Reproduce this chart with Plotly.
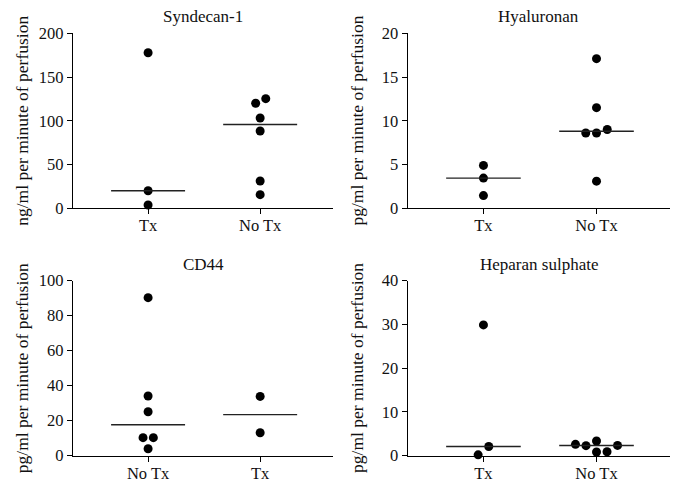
import numpy as np
import plotly.graph_objects as go

# ---- data ----
titles = ["Syndecan-1", "Hyaluronan", "CD44", "Heparan sulphate"]
y_titles = ["ng/ml per minute of perfusion", "pg/ml per minute of perfusion",
            "pg/ml per minute of perfusion", "pg/ml per minute of perfusion"]
groups = [["Tx", "No Tx"], ["Tx", "No Tx"], ["No Tx", "Tx"], ["Tx", "No Tx"]]
y_max = [200, 20, 100, 40]
y_dtick = [50, 5, 20, 10]

syndecan_tx = [177.8, 20.1, 3.8]
syndecan_notx = [120.0, 125.3, 103.2, 88.3, 31.2, 15.6]
hyaluronan_tx = [4.9, 3.45, 1.45]
hyaluronan_notx = [17.1, 11.5, 8.6, 8.6, 9.0, 3.1]
cd44_notx = [90.3, 34.1, 25.1, 10.3, 10.3, 4.0]
cd44_tx = [33.9, 13.1]
heparan_tx = [29.9, 2.1, 0.2]
heparan_notx = [2.6, 2.3, 3.35, 0.84, 0.9, 2.36]

# horizontal scatter offsets (category units)
syndecan_tx_off = [0, 0, 0]
syndecan_notx_off = [-0.04, 0.05, 0, 0, 0, 0]
hyaluronan_tx_off = [0, 0, 0]
hyaluronan_notx_off = [0, 0, -0.095, 0, 0.095, 0]
cd44_notx_off = [0, 0, 0, -0.045, 0.047, 0]
cd44_tx_off = [0, 0]
heparan_tx_off = [0, 0.047, -0.047]
heparan_notx_off = [-0.186, -0.093, 0, 0, 0.093, 0.186]

panels = [
    [(syndecan_tx, syndecan_tx_off), (syndecan_notx, syndecan_notx_off)],
    [(hyaluronan_tx, hyaluronan_tx_off), (hyaluronan_notx, hyaluronan_notx_off)],
    [(cd44_notx, cd44_notx_off), (cd44_tx, cd44_tx_off)],
    [(heparan_tx, heparan_tx_off), (heparan_notx, heparan_notx_off)],
]

# ---- layout geometry (page body has an 8px margin) ----
OFF = 8
W, H = 680 - 2 * OFF, 490 - 2 * OFF


def px(v):
    return (v - OFF) / W


def py(v):
    return 1 - (v - OFF) / H


x_doms = [[px(73), px(333)], [px(407.7), px(670)]]
y_doms = [[py(208.3), py(33.3)], [py(455.7), py(280.7)]]
FONT = "Liberation Serif"
TXT = "#111111"
half_w = 0.33

fig = go.Figure()
layout = dict(width=W, height=H, margin=dict(l=0, r=0, t=0, b=0), template="none",
              paper_bgcolor="white", plot_bgcolor="white", showlegend=False,
              font=dict(family=FONT, color=TXT))
annotations = []

for i in range(4):
    r, c = divmod(i, 2)
    ax = "" if i == 0 else str(i + 1)
    xref, yref = "x" + ax, "y" + ax
    for gi, (vals, offs) in enumerate(panels[i]):
        xs = [gi + o for o in offs]
        fig.add_trace(go.Scatter(x=xs, y=vals, mode="markers", xaxis=xref, yaxis=yref,
                                 marker=dict(color="black", size=9, line=dict(width=0)),
                                 cliponaxis=False, hoverinfo="y"))
        med = float(np.median(vals))
        fig.add_trace(go.Scatter(x=[gi - half_w, gi + half_w], y=[med, med], mode="lines",
                                 xaxis=xref, yaxis=yref, cliponaxis=False,
                                 line=dict(color="#222222", width=1.4), hoverinfo="skip"))
    layout["xaxis" + ax] = dict(domain=x_doms[c], anchor=yref, range=[-0.67, 1.65],
                                automargin=False, tickvals=[0, 1], ticktext=groups[i],
                                showline=True, linecolor="black", linewidth=1.3,
                                ticks="outside", ticklen=5, tickwidth=1.3, tickcolor="black",
                                showgrid=False, zeroline=False, ticklabelstandoff=-3,
                                tickfont=dict(family=FONT, size=16.5, color=TXT))
    layout["yaxis" + ax] = dict(domain=y_doms[r], anchor=xref, range=[0, y_max[i]],
                                automargin=False, dtick=y_dtick[i], showline=True,
                                linecolor="black", linewidth=1.3, ticks="outside", ticklen=5,
                                tickwidth=1.3, tickcolor="black", showgrid=False,
                                zeroline=False,
                                tickfont=dict(family=FONT, size=16.5, color=TXT))
    xd, yd = x_doms[c], y_doms[r]
    annotations.append(dict(text=titles[i], xref="paper", yref="paper",
                            x=(xd[0] + xd[1]) / 2, y=yd[1] + 16.5 / H,
                            xanchor="center", yanchor="middle", showarrow=False,
                            font=dict(family=FONT, size=17, color=TXT)))
    annotations.append(dict(text=y_titles[i], xref="paper", yref="paper",
                            x=xd[0] - 51 / W, y=(yd[0] + yd[1]) / 2, textangle=-90,
                            xanchor="center", yanchor="middle", showarrow=False,
                            font=dict(family=FONT, size=17.5, color=TXT)))

layout["annotations"] = annotations
fig.update_layout(**layout)
fig.write_html("out.html")
